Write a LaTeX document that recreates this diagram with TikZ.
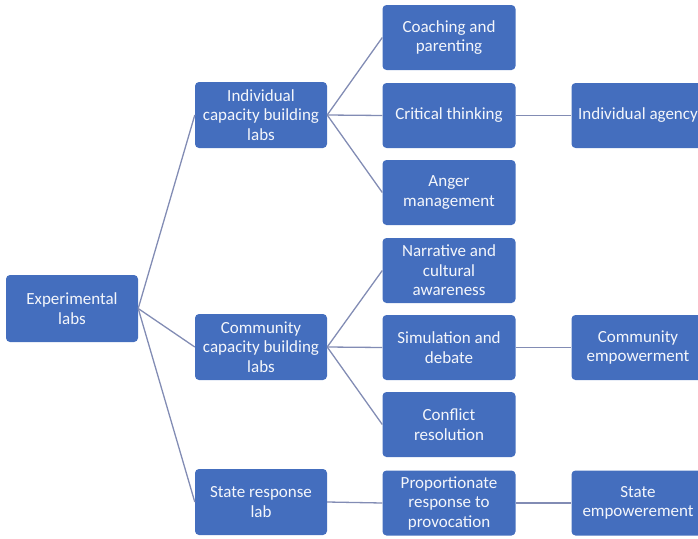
\documentclass[tikz,border=0pt]{standalone}
\usepackage{fontspec}
\setmainfont{Carlito}
\usepackage{tikz}
\usetikzlibrary{positioning}
\definecolor{labblue}{RGB}{68,110,190}
\definecolor{linkgray}{RGB}{130,140,180}

\begin{document}
\begin{tikzpicture}[x=1pt,y=-1pt,
    labbox/.style={rectangle, rounded corners=4pt, fill=labblue, text=white!94!labblue,
      minimum width=133pt, minimum height=65pt, align=center, inner sep=1pt,
      font=\fontsize{17}{19.5}\selectfont},
    link/.style={draw=linkgray, line width=1.3pt}]

  \useasboundingbox (0,0) rectangle (698,538);

  % ---------- raiz ----------
  \node[labbox, minimum width=132pt, minimum height=67pt] (exp) at (72,308.5) {Experimental\\labs};

  % ---------- nivel 1 ----------
  \node[labbox, minimum width=132pt, minimum height=66pt] (ind) at (261,115) {Individual\\capacity building\\labs};
  \node[labbox, minimum width=132pt, minimum height=66pt] (com) at (261,347) {Community\\capacity building\\labs};
  \node[labbox, minimum width=132pt, minimum height=66pt] (sta) at (261,502) {State response\\lab};

  % ---------- nivel 2 ----------
  \node[labbox] (coa) at (449,37.5) {Coaching and\\parenting};
  \node[labbox] (cri) at (449,115.5) {Critical thinking};
  \node[labbox] (ang) at (449,192.5) {Anger\\management};
  \node[labbox] (nar) at (449,270.5) {Narrative and\\cultural\\awareness};
  \node[labbox] (sim) at (449,347.5) {Simulation and\\debate};
  \node[labbox] (con) at (449,424.5) {Conflict\\resolution};
  \node[labbox] (pro) at (449,503) {Proportionate\\response to\\provocation};

  % ---------- nivel 3 (cortado na borda) ----------
  \node[labbox] (age) at (638,115.5) {Individual agency};
  \node[labbox] (cem) at (638,347.5) {Community\\empowerment};
  \node[labbox] (sem) at (638,503) {State\\empowerement};

  % ---------- ligacoes ----------
  \foreach \a/\b in {exp/ind, exp/com, exp/sta,
                     ind/coa, ind/cri, ind/ang,
                     com/nar, com/sim, com/con,
                     sta/pro, cri/age, sim/cem, pro/sem}
    \draw[link] (\a.east) -- (\b.west);

\end{tikzpicture}
\end{document}
